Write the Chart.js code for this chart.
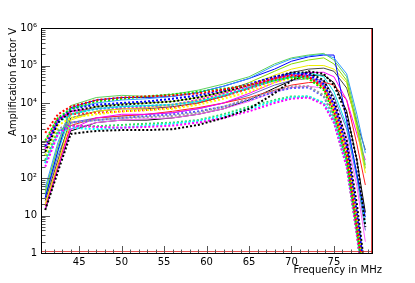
<!DOCTYPE html>
<html><head><meta charset="utf-8">
<script src="https://cdn.jsdelivr.net/npm/chart.js@4/dist/chart.umd.min.js"></script>
<style>html,body{margin:0;padding:0;background:#fff}#wrap{width:415px;height:283px}</style>
</head><body><div id="wrap"><canvas id="c" width="415" height="283"></canvas></div>
<script>
// ---- data ----
const freqMHz = [41, 42.5, 44, 47, 50, 53, 56, 59, 62, 65, 68, 70, 72, 73.8, 75, 76.5, 77.7, 78.7];
const xTickValues = [45, 50, 55, 60, 65, 70, 75];
const xTickLabels = ['45', '50', '55', '60', '65', '70', '75'];
const yTickValues = [1, 10, 100, 1000, 10000, 100000, 1000000];
const yTickLabels = ['1', '10', '10²', '10³', '10⁴', '10⁵', '10⁶'];
const xTitle = 'Frequency in MHz';
const yTitle = 'Amplification factor V';

// solid curves
const solidGreen   = [40, 700, 8500, 14000, 16000, 15000, 17000, 22000, 32000, 50000, 110000, 160000, 190000, 210000, 140000, 50000, 3500, 220];
const solidSky     = [55, 900, 7000, 10000, 12000, 13000, 15000, 19000, 28000, 45000, 100000, 150000, 180000, 200000, 160000, 60000, 5000, 460];
const solidBlue    = [30, 550, 7500, 12000, 14000, 14000, 15000, 19000, 28000, 45000, 80000, 130000, 170000, 190000, 190000, 3300, 130, 9];
const solidLime    = [45, 700, 5000, 8000, 9500, 10000, 11000, 14000, 20000, 35000, 70000, 110000, 140000, 160000, 110000, 40000, 2500, 180];
const solidYellow  = [20, 250, 3500, 6000, 7000, 7500, 9000, 12000, 18000, 30000, 55000, 80000, 100000, 100000, 80000, 35000, 2000, 135];
const solidGray    = [25, 300, 4000, 6000, 7000, 7000, 8000, 10000, 15000, 25000, 45000, 65000, 80000, 85000, 70000, 25000, 3000, 560];
const solidMagenta = [15, 180, 2000, 4000, 5000, 5000, 5500, 7000, 10000, 18000, 35000, 50000, 65000, 66000, 50000, 12000, 1500, 300];
const solidRed     = [18, 220, 2500, 4000, 4500, 5000, 6000, 7500, 10000, 14000, 22000, 30000, 35000, 36000, 30000, 12000, 800, 65];
const solidCyan    = [35, 500, 5000, 7000, 8000, 8500, 9000, 11000, 16000, 26000, 45000, 60000, 65000, 50000, 20000, 2500, 120, 6];
const solidPink    = [20, 300, 2000, 3000, 3500, 3800, 4000, 5000, 7000, 11000, 20000, 26000, 28000, 25000, 10000, 1200, 60, 2];
const solidSlate   = [30, 400, 3000, 4000, 4500, 5000, 5500, 7000, 10000, 16000, 30000, 40000, 45000, 40000, 15000, 2000, 100, 4];
const solidBlack   = [14, 180, 1800, 3000, 3500, 3500, 4000, 5000, 7000, 12000, 25000, 40000, 55000, 55000, 35000, 6000, 300, 12];

// dotted curves
const dotRed       = [1600, 5000, 8000, 12000, 14000, 15000, 16000, 18000, 23000, 30000, 45000, 55000, 50000, 25000, 6000, 400, 5, 0.1];
const dotGreen     = [1000, 4000, 7000, 11000, 13000, 15000, 17000, 20000, 24000, 30000, 40000, 48000, 45000, 22000, 5000, 300, 4, 0.08];
const dotBlue      = [700, 3500, 7000, 9000, 10000, 11000, 13000, 16000, 22000, 32000, 50000, 60000, 60000, 32000, 9000, 700, 12, 0.2];
const dotBlack     = [500, 3000, 6000, 8000, 9000, 10000, 11000, 14000, 20000, 30000, 50000, 65000, 65000, 40000, 12000, 1000, 20, 0.3];
const dotBlackLow  = [14, 150, 1500, 1800, 1900, 1900, 2000, 2600, 4000, 7000, 18000, 40000, 70000, 60000, 30000, 5000, 300, 5];
const dotMagenta   = [200, 1500, 2500, 2300, 2200, 2300, 2500, 3000, 4000, 6000, 10000, 13000, 14000, 9000, 3000, 200, 3, 0.05];
const dotCyan      = [250, 1500, 2200, 2000, 2200, 2500, 2800, 3300, 4500, 7000, 11000, 14000, 15000, 10000, 3500, 250, 4, 0.05];
const dotGreenLow  = [300, 1800, 2500, 2400, 2600, 2800, 3000, 3500, 5000, 8000, 12000, 15000, 15000, 10000, 3000, 200, 3, 0.05];
const dotYellow    = [400, 2500, 4000, 5000, 6000, 6500, 7000, 9000, 13000, 20000, 35000, 45000, 45000, 25000, 7000, 500, 8, 0.1];
const dotGray      = [300, 2000, 3000, 3500, 4000, 4200, 4500, 5500, 8000, 13000, 22000, 28000, 28000, 16000, 4000, 300, 4, 0.05];
const dotCyanHigh  = [400, 3000, 5000, 7000, 8000, 8500, 9000, 11000, 16000, 25000, 40000, 50000, 50000, 28000, 7000, 500, 6, 0.1];
const dotMagentaHi = [600, 3500, 6000, 7000, 7500, 8000, 9000, 12000, 18000, 28000, 45000, 55000, 55000, 30000, 8000, 600, 8, 0.1];
const dotBlueLow   = [250, 1600, 3000, 3500, 4000, 4500, 5000, 6000, 8000, 12000, 20000, 25000, 26000, 15000, 4000, 300, 4, 0.05];
const dotRedMid    = [900, 4000, 5000, 5500, 6000, 6500, 7500, 10000, 15000, 24000, 40000, 50000, 50000, 30000, 8000, 600, 8, 0.1];

// ---- styling table ----
const seriesStyle = [
  [solidGreen, '#5fd35f', false], [solidSky, '#3399ff', false], [solidBlue, '#0000ff', false],
  [solidLime, '#88dd00', false], [solidYellow, '#eeee00', false], [solidGray, '#444444', false],
  [solidMagenta, '#ff00ff', false], [solidRed, '#ff2020', false], [solidCyan, '#00e5e5', false],
  [solidPink, '#ff66ff', false], [solidSlate, '#6666cc', false], [solidBlack, '#000000', false],
  [dotRed, '#ff0000', true], [dotGreen, '#00ee00', true], [dotBlue, '#0000ff', true],
  [dotBlack, '#000000', true], [dotBlackLow, '#000000', true], [dotMagenta, '#ff00ff', true],
  [dotCyan, '#00ffff', true], [dotGreenLow, '#33dd66', true], [dotYellow, '#ffff00', true],
  [dotGray, '#999999', true], [dotCyanHigh, '#00dddd', true], [dotMagentaHi, '#ee00ee', true],
  [dotBlueLow, '#5555ff', true], [dotRedMid, '#ff3333', true]
];

const datasets = seriesStyle.map(([vals, color, dotted]) => ({
  data: freqMHz.map((f, i) => ({x: f, y: vals[i]})),
  borderColor: color,
  borderWidth: dotted ? 2 : 1,
  borderDash: dotted ? [2, 2] : [],
  pointRadius: 0,
  tension: 0,
  fill: false,
  order: dotted ? 0 : 1
}));

const frameDeco = {
  id: 'frameDeco',
  afterDatasetsDraw(chart) {
    const {ctx, chartArea: a, scales: {x, y}} = chart;
    ctx.save();
    // red line along bottom / right
    ctx.strokeStyle = 'rgba(220,30,30,0.8)';
    ctx.lineWidth = 1;
    ctx.beginPath();
    ctx.moveTo(a.left, a.bottom - 1.5); ctx.lineTo(a.right, a.bottom - 1.5);
    ctx.moveTo(a.right - 1.5, a.top); ctx.lineTo(a.right - 1.5, a.bottom);
    ctx.stroke();
    // ticks
    ctx.strokeStyle = '#555';
    ctx.beginPath();
    for (let f = Math.ceil(x.min); f <= x.max; f++) {
      const px = Math.round(x.getPixelForValue(f)) + 0.5;
      const len = f % 5 === 0 ? 7 : 3.5;
      ctx.moveTo(px, a.bottom); ctx.lineTo(px, a.bottom - len);
    }
    for (let d = 0; d < 6; d++) {
      for (let k = 1; k < 10; k++) {
        const py = Math.round(y.getPixelForValue(k * Math.pow(10, d))) + 0.5;
        const len = k === 1 ? 9 : 4.5;
        ctx.moveTo(a.left, py); ctx.lineTo(a.left + len, py);
      }
    }
    ctx.stroke();
    // frame
    ctx.strokeStyle = '#000';
    ctx.strokeRect(a.left + 0.5, a.top + 0.5, a.right - a.left - 1, a.bottom - a.top + 0);
    // titles
    ctx.fillStyle = '#000';
    ctx.font = '10px "DejaVu Sans"';
    ctx.textBaseline = 'middle';
    ctx.textAlign = 'right';
    ctx.fillText(xTitle, 382, 270.5);
    ctx.translate(13.5, a.top);
    ctx.rotate(-Math.PI / 2);
    ctx.fillText(yTitle, 0, 0);
    ctx.restore();
  }
};

new Chart(document.getElementById('c'), {
  type: 'line',
  data: {datasets},
  options: {
    responsive: false,
    animation: false,
    devicePixelRatio: 1,
    layout: {padding: {top: 28, right: 42, left: 0, bottom: 0}},
    plugins: {legend: {display: false}, tooltip: {enabled: false}},
    scales: {
      x: {
        type: 'linear', min: 40.5, max: 79.6,
        grid: {display: false, drawTicks: false}, border: {display: false},
        afterBuildTicks: s => { s.ticks = xTickValues.map(v => ({value: v})); },
        afterFit: s => { s.height = 30; },
        ticks: {autoSkip: false, maxRotation: 0, padding: 3, color: '#000',
          font: {family: '"DejaVu Sans"', size: 10},
          callback: (v, i) => xTickLabels[i]}
      },
      y: {
        type: 'logarithmic', min: 1, max: 1000000,
        grid: {display: false, drawTicks: false}, border: {display: false},
        afterBuildTicks: s => { s.ticks = yTickValues.map(v => ({value: v})); },
        afterFit: s => { s.width = 41; },
        ticks: {autoSkip: false, padding: 4, color: '#000',
          font: {family: '"DejaVu Sans"', size: 10},
          callback: (v, i) => yTickLabels[i]}
      }
    }
  },
  plugins: [frameDeco]
});
</script>
</body></html>
